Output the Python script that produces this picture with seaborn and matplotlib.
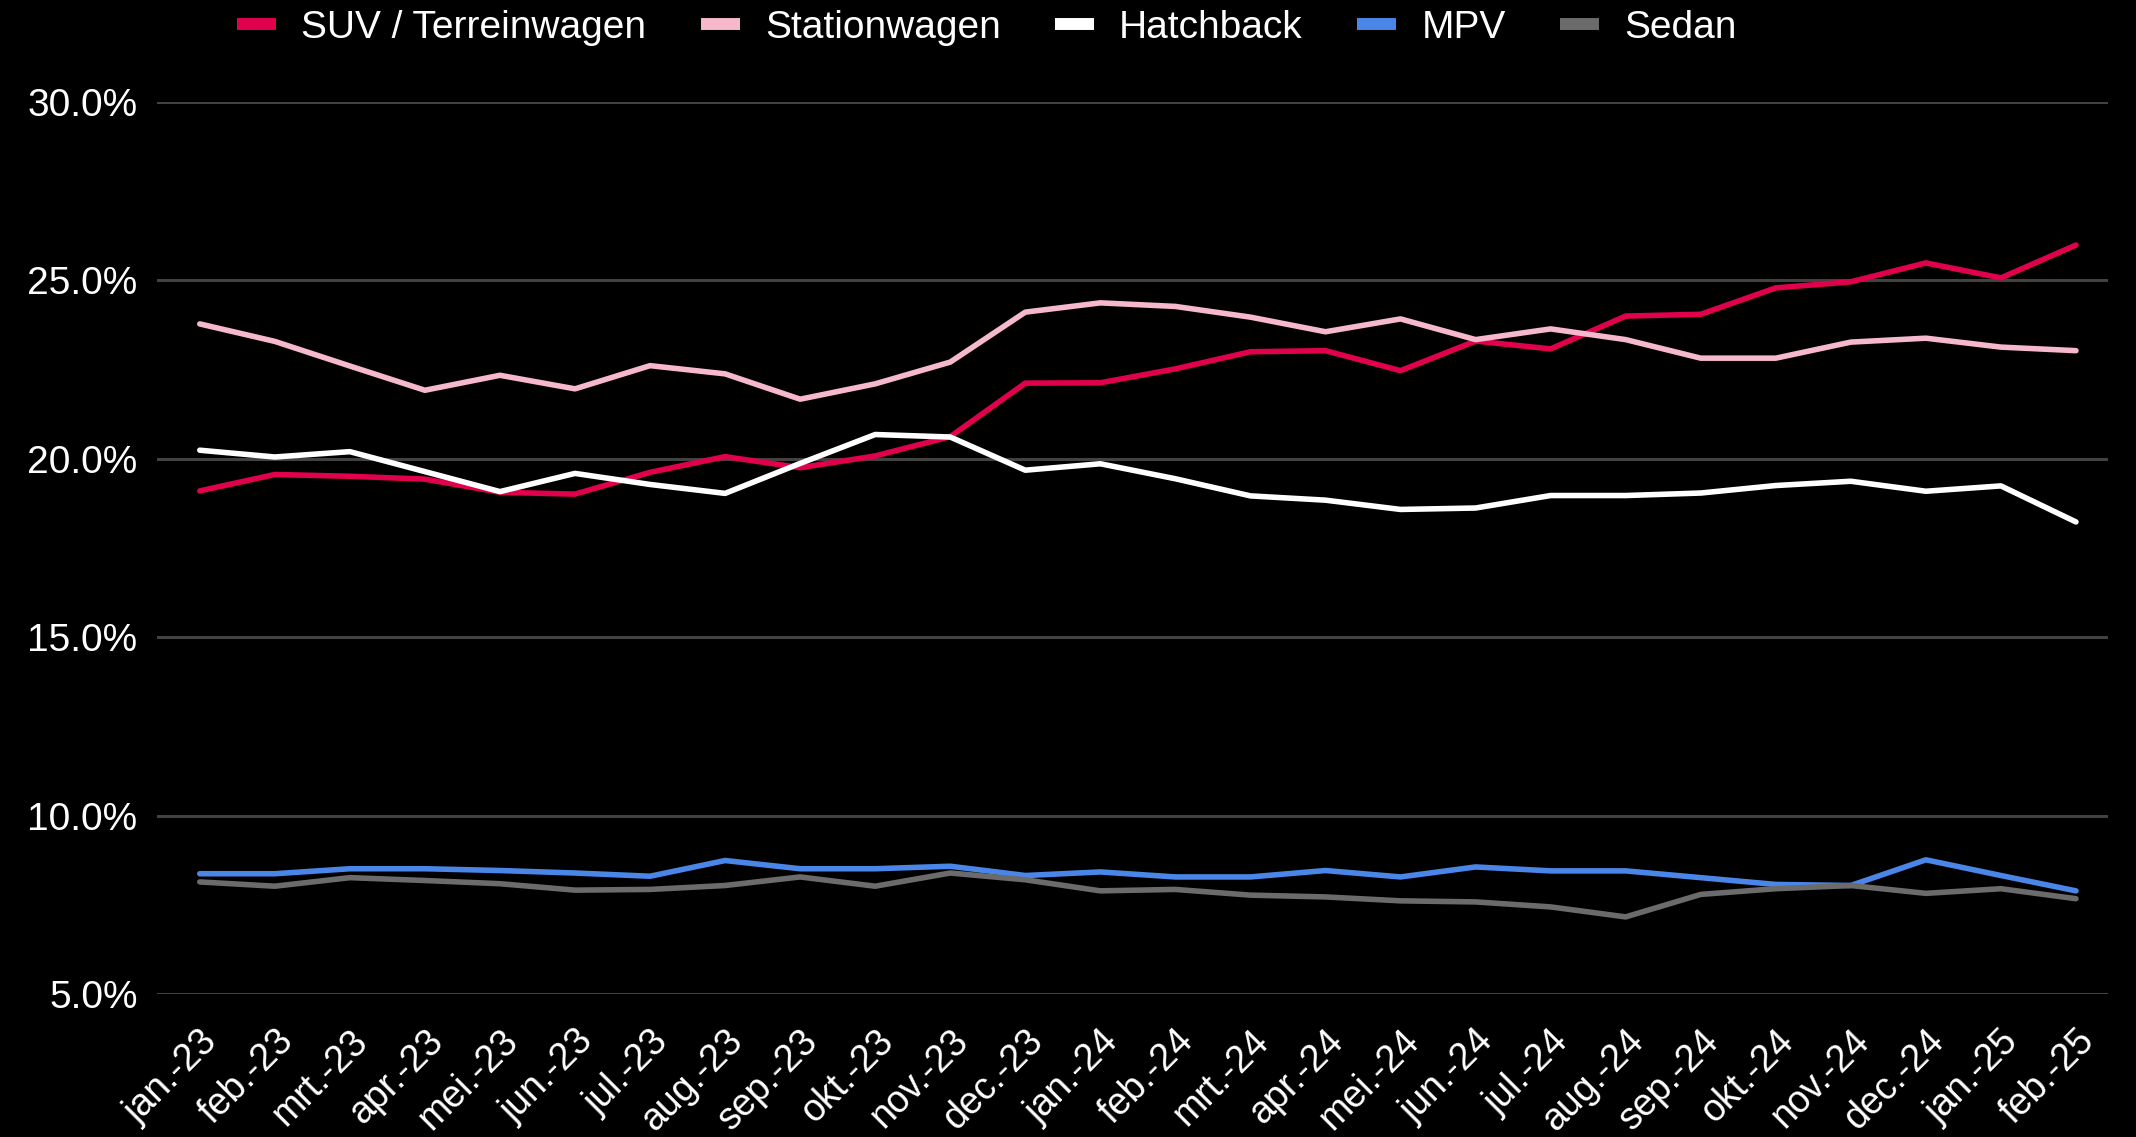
import matplotlib
matplotlib.use("Agg")
import matplotlib.pyplot as plt
import seaborn as sns
import pandas as pd
from matplotlib.lines import Line2D
from matplotlib.ticker import FuncFormatter

months = ["jan.-23", "feb.-23", "mrt.-23", "apr.-23", "mei.-23", "jun.-23", "jul.-23",
          "aug.-23", "sep.-23", "okt.-23", "nov.-23", "dec.-23", "jan.-24", "feb.-24",
          "mrt.-24", "apr.-24", "mei.-24", "jun.-24", "jul.-24", "aug.-24", "sep.-24",
          "okt.-24", "nov.-24", "dec.-24", "jan.-25", "feb.-25"]

suv = [19.10, 19.56, 19.51, 19.43, 19.06, 19.01, 19.62, 20.06, 19.75, 20.08, 20.62, 22.12,
       22.13, 22.52, 23.00, 23.03, 22.47, 23.30, 23.08, 24.00, 24.05, 24.79, 24.96, 25.49,
       25.07, 25.99]
station = [23.78, 23.29, 22.60, 21.92, 22.34, 21.96, 22.61, 22.38, 21.67, 22.10, 22.71, 24.11,
           24.37, 24.27, 23.97, 23.56, 23.92, 23.34, 23.64, 23.34, 22.82, 22.82, 23.27, 23.38,
           23.13, 23.03]
hatch = [20.24, 20.05, 20.20, 19.64, 19.08, 19.59, 19.28, 19.03, 19.87, 20.68, 20.61, 19.68,
         19.86, 19.44, 18.96, 18.84, 18.58, 18.62, 18.97, 18.97, 19.04, 19.25, 19.37, 19.09,
         19.24, 18.23]
mpv = [8.37, 8.37, 8.51, 8.51, 8.46, 8.39, 8.30, 8.74, 8.51, 8.51, 8.58, 8.32,
       8.42, 8.28, 8.28, 8.46, 8.28, 8.56, 8.45, 8.45, 8.26, 8.07, 8.04, 8.76,
       8.32, 7.89]
sedan = [8.14, 8.02, 8.26, 8.18, 8.09, 7.91, 7.93, 8.04, 8.28, 8.02, 8.39, 8.20,
         7.89, 7.93, 7.77, 7.72, 7.61, 7.58, 7.44, 7.16, 7.79, 7.95, 8.04, 7.82,
         7.95, 7.67]

series_names = ["SUV / Terreinwagen", "Stationwagen", "Hatchback", "MPV", "Sedan"]
series_values = [suv, station, hatch, mpv, sedan]
colors = ["#E0004D", "#F6B8CB", "#FFFFFF", "#4A86E8", "#6B6B6B"]
yticks = [5, 10, 15, 20, 25, 30]

rows = []
for name, vals in zip(series_names, series_values):
    for i, v in enumerate(vals):
        rows.append({"idx": i, "value": v, "series": name})
df = pd.DataFrame(rows)

sns.set_style("dark")
plt.rcParams['font.family'] = ['Liberation Sans', 'DejaVu Sans']

fig = plt.figure(figsize=(21.36, 11.37), dpi=100, facecolor="black")
ax = fig.add_axes([0.0735, 0.1258, 0.9135, 0.7845])
ax.set_facecolor("black")

palette = dict(zip(series_names, colors))
sns.lineplot(data=df, x="idx", y="value", hue="series", hue_order=series_names,
             palette=palette, linewidth=4.0, ax=ax, legend=False, sort=False)

ax.set_ylim(5, 30)
ax.set_xlim(-0.57, 25.43)
ax.set_yticks(yticks)
ax.yaxis.set_major_formatter(FuncFormatter(lambda v, p: f"{v:.1f}%"))
ax.set_xticks(range(len(months)))
ax.set_xticklabels(months, rotation=45, ha="right", rotation_mode="anchor")
ax.tick_params(axis="x", colors="white", labelsize=27, length=0, pad=21)
ax.tick_params(axis="y", colors="white", labelsize=28, length=0, pad=14)
ax.grid(axis="y", color="#424242", linewidth=2.2)
ax.grid(axis="x", visible=False)
ax.set_axisbelow(True)
for s in ax.spines.values():
    s.set_visible(False)
ax.set_xlabel("")
ax.set_ylabel("")

handles = [Line2D([0], [0], color=c, linewidth=8.6, solid_capstyle="butt") for c in colors]
leg = fig.legend(handles, series_names, loc="center", bbox_to_anchor=(0.462, 0.9754),
                 ncol=5, frameon=False, fontsize=28, handletextpad=0.65,
                 columnspacing=1.4, handlelength=1.0)
for t in leg.get_texts():
    t.set_color("white")

fig.savefig("out.png", dpi=100, facecolor="black")
